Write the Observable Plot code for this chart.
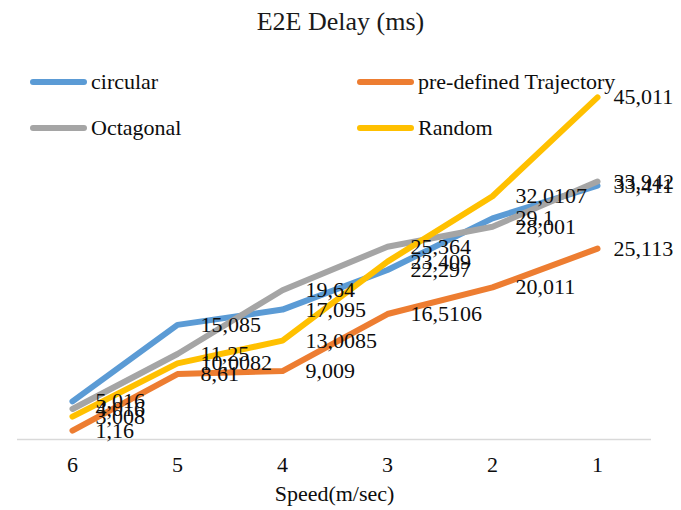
<!DOCTYPE html>
<html><head><meta charset="utf-8">
<script src="https://cdn.jsdelivr.net/npm/d3@7"></script>
<script src="https://cdn.jsdelivr.net/npm/@observablehq/plot@0.6"></script>
<style>
body{margin:0;background:#fff;font-family:"Liberation Serif","Times New Roman",serif;}
#wrap{position:relative;width:681px;height:510px;overflow:hidden;}
#title{position:absolute;top:9px;left:0;width:681px;text-align:center;font-size:26px;line-height:26px;color:#1a1a1a;}
#chart{position:absolute;top:45px;left:0;}
.leg{position:absolute;font-size:22px;line-height:26px;height:26px;color:#0d0d0d;white-space:nowrap;}
.sw{position:absolute;left:0;top:10px;width:57px;height:6px;border-radius:3px;}
.lt{position:absolute;top:0;}
</style></head>
<body>
<div id="wrap">
  <div id="title">E2E Delay (ms)</div>
  <div id="chart"></div>
  <div id="legend"></div>
</div>
<script>
const speeds = ["6","5","4","3","2","1"];
const seriesNames = ["circular","pre-defined Trajectory","Octagonal","Random"];
const colors = ["#5B9BD5","#ED7D31","#A5A5A5","#FFC000"];
const circular = [5.016, 15.085, 17.095, 22.297, 29.1, 33.411];
const predefined = [1.16, 8.61, 9.009, 16.5106, 20.011, 25.113];
const octagonal = [4.016, 11.25, 19.64, 25.364, 28.001, 33.942];
const random = [3.008, 10.0082, 13.0085, 23.409, 32.0107, 45.011];
const seriesValues = [circular, predefined, octagonal, random];

const rows = [];
seriesNames.forEach((s, i) => speeds.forEach((sp, j) => rows.push({series: s, speed: sp, value: seriesValues[i][j]})));
const fmt = v => String(v).replace(".", ",");
const lastSpeed = speeds[speeds.length - 1];

const lineMarks = seriesNames.map((s, i) =>
  Plot.line(rows.filter(d => d.series === s), {x: "speed", y: "value", stroke: colors[i], strokeWidth: 6, strokeLinecap: "round", strokeLinejoin: "round"}));

const labelStyle = {x: "speed", y: "value", text: d => fmt(d.value), textAnchor: "start", fontSize: 22, fill: "#0d0d0d"};

const chart = Plot.plot({
  width: 681, height: 465,
  marginLeft: 17, marginRight: 30, marginTop: 14, marginBottom: 71,
  style: {fontFamily: "Liberation Serif, Times New Roman, serif", fontSize: "22px", color: "#0d0d0d", background: "#fff"},
  x: {type: "point", domain: speeds, padding: 0.5},
  y: {domain: [0, 50], axis: null},
  marks: [
    Plot.ruleY([0], {stroke: "#d9d9d9", strokeWidth: 1.5}),
    Plot.axisX({tickSize: 0, tickPadding: 17, fontSize: 22, label: null}),
    Plot.text(["Speed(m/sec)"], {frameAnchor: "bottom", dy: 61, fontSize: 22, fill: "#0d0d0d"}),
    ...lineMarks,
    Plot.text(rows.filter(d => d.speed !== lastSpeed), {...labelStyle, dx: 23}),
    Plot.text(rows.filter(d => d.speed === lastSpeed), {...labelStyle, dx: 16})
  ]
});
document.getElementById("chart").appendChild(chart);

const legPos = [[30, 69], [357, 69], [30, 115], [357, 115]];
const leg = document.getElementById("legend");
seriesNames.forEach((s, i) => {
  const d = document.createElement("div");
  d.className = "leg";
  d.style.left = legPos[i][0] + "px";
  d.style.top = legPos[i][1] + "px";
  d.innerHTML = `<span class="sw" style="background:${colors[i]}"></span><span class="lt" style="left:61px">${s}</span>`;
  leg.appendChild(d);
});
</script>
</body></html>
